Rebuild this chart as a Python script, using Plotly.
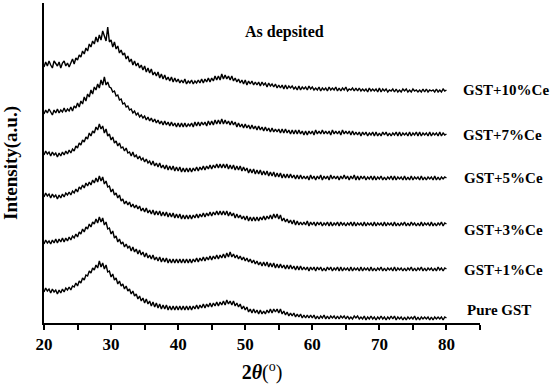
import numpy as np
import plotly.graph_objects as go

# 2-theta sampling: start 20 deg, 0.25 deg step
two_theta_start, two_theta_step = 20.0, 0.25

labels = ["GST+10%Ce", "GST+7%Ce", "GST+5%Ce", "GST+3%Ce", "GST+1%Ce", "Pure GST"]

ce10 = [
    256,261,257,262, 258,255,262,259,
    257,261,255,260, 262,257,260,256,
    261,264,259,265, 263,268,266,272,
    269,275,272,279, 276,282,279,286,
    281,288,283,292, 287,282,296,281,
    283,276,281,274, 277,270,273,268,
    270,264,267,261, 264,258,262,257,
    260,255,258,253, 257,251,255,250,
    254,248,251,247, 251,245,249,244,
    248,243,246,242, 246,241,245,241,
    244,240,243,240, 244,239,242,240,
    243,239,242,240, 243,240,244,240,
    244,241,245,241, 245,242,247,243,
    247,243,249,244, 248,244,247,243,
    247,242,245,241, 244,240,243,239,
    243,238,242,239, 242,238,241,238,
    241,237,241,238, 240,236,240,237,
    239,236,239,235, 238,235,238,234,
    238,234,237,235, 237,234,236,233,
    237,233,236,234, 236,233,237,234,
    236,233,235,233, 236,232,235,233,
    235,232,236,233, 235,233,236,232,
    235,232,235,233, 236,232,234,233,
    235,232,235,232, 235,232,234,232,
    234,231,235,232, 234,232,234,231,
    235,231,234,232, 234,231,233,232,
    234,231,234,231, 233,231,234,232,
    234,231,233,231, 234,232,233,231,
    233,231,234,231, 234,231,233,232,
    233,231,234,231, 233,231,234,232,
    233]
ce7 = [
    209,213,210,214, 211,208,213,210,
    214,210,213,211, 215,211,214,212,
    216,212,217,215, 220,216,222,219,
    226,222,229,226, 233,229,236,233,
    239,235,243,238, 246,238,241,236,
    235,231,232,227, 228,223,224,219,
    220,216,217,213, 214,210,212,208,
    210,206,208,205, 207,203,206,202,
    205,201,204,200, 203,199,202,198,
    202,198,201,197, 201,197,200,196,
    200,196,200,196, 200,196,199,197,
    200,196,201,197, 201,197,201,198,
    201,197,202,198, 202,198,203,199,
    203,199,204,199, 203,199,202,198,
    202,198,201,196, 200,196,199,195,
    199,195,198,194, 198,194,197,193,
    197,193,196,192, 196,192,195,191,
    195,191,194,191, 194,190,194,190,
    194,190,193,189, 193,189,193,189,
    193,189,192,188, 192,188,192,189,
    192,188,193,189, 192,189,193,189,
    192,189,192,188, 193,189,192,189,
    192,188,193,189, 192,189,192,188,
    192,188,191,188, 191,187,191,188,
    191,187,190,188, 191,187,191,187,
    190,187,191,188, 191,187,190,187,
    190,188,191,187, 191,187,190,188,
    190,187,191,187, 190,188,191,187,
    191,187,190,188, 190,187,191,187,
    190,188,190,187, 191,187,190,188,
    189]
ce5 = [
    168,172,169,171, 167,171,168,170,
    166,170,167,171, 168,172,169,173,
    170,174,172,177, 175,180,178,183,
    181,186,184,190, 187,192,190,196,
    193,199,194,197, 190,194,187,189,
    183,186,180,182, 177,180,175,176,
    172,175,170,171, 167,171,166,168,
    164,167,163,165, 161,164,160,162,
    158,162,157,160, 156,160,155,158,
    154,158,153,157, 153,157,152,156,
    152,156,151,155, 151,155,151,155,
    151,155,152,156, 152,156,153,157,
    153,157,154,158, 154,158,155,159,
    155,159,155,159, 155,159,154,158,
    154,158,153,157, 153,157,152,156,
    152,155,150,154, 150,154,149,153,
    149,153,148,152, 148,152,147,151,
    147,151,146,150, 146,150,145,149,
    145,149,145,149, 145,148,144,148,
    144,148,144,147, 144,147,143,148,
    144,147,143,147, 144,148,143,147,
    144,147,143,148, 144,147,144,147,
    143,147,144,148, 144,147,143,147,
    144,148,143,147, 143,147,144,147,
    143,146,144,147, 143,147,143,146,
    144,147,143,146, 143,146,144,147,
    143,147,143,146, 144,146,143,147,
    143,146,143,147, 143,146,144,146,
    143,147,143,146, 143,146,144,146,
    143,147,143,146, 143,146,144,146,
    145]
ce3 = [
    126,130,127,129, 125,129,126,128,
    124,128,125,129, 126,130,128,131,
    128,132,130,134, 131,136,134,138,
    135,140,137,141, 138,143,140,145,
    141,147,142,146, 139,142,136,137,
    131,134,128,130, 125,128,122,124,
    119,122,118,121, 116,119,115,118,
    114,117,112,115, 111,115,110,113,
    109,113,108,112, 108,112,107,111,
    107,111,106,110, 106,110,105,109,
    105,109,104,108, 104,108,104,108,
    104,108,105,109, 105,109,106,110,
    106,110,107,111, 107,111,108,112,
    108,112,108,112, 108,112,107,111,
    107,110,105,109, 105,108,104,107,
    103,107,102,106, 102,106,102,106,
    102,106,103,107, 103,107,104,108,
    104,109,105,109, 104,108,102,105,
    101,104,100,103, 99,103,98,102,
    98,101,98,101, 98,102,97,101,
    98,101,97,101, 98,101,97,100,
    98,101,97,101, 97,100,98,101,
    97,101,98,100, 97,100,98,101,
    97,101,97,100, 98,100,97,101,
    97,100,98,100, 97,101,97,100,
    98,100,97,101, 97,100,98,100,
    97,101,97,100, 97,100,98,101,
    97,100,97,101, 98,100,97,100,
    97,101,97,100, 98,100,97,101,
    97,100,97,100, 98,101,97,100,
    99]
ce1 = [
    79,83,80,82, 79,83,80,84,
    80,84,81,85, 81,85,82,86,
    83,87,85,89, 86,91,89,94,
    91,96,94,99, 96,101,99,104,
    100,106,101,105, 98,101,94,95,
    89,92,85,87, 81,84,79,81,
    76,79,75,77, 72,76,71,74,
    69,73,68,71, 66,70,65,68,
    64,68,63,66, 62,66,61,65,
    61,65,60,64, 60,64,60,64,
    60,64,60,64, 60,64,60,64,
    60,64,61,65, 61,65,62,66,
    62,66,63,67, 63,67,64,68,
    64,68,65,69, 65,70,66,71,
    66,69,65,68, 64,67,63,66,
    62,65,61,64, 60,63,59,62,
    58,61,57,61, 57,61,56,60,
    56,60,55,59, 55,59,55,58,
    54,58,54,58, 54,57,53,57,
    53,57,53,56, 53,56,52,56,
    53,56,52,56, 53,56,52,55,
    52,56,53,56, 52,55,53,56,
    52,56,52,55, 53,55,52,56,
    52,55,53,55, 52,56,52,55,
    53,55,52,56, 52,55,52,55,
    53,56,52,55, 52,55,53,55,
    52,56,52,55, 53,55,52,55,
    52,55,53,56, 52,55,52,55,
    53,56,52,55, 52,55,53,55,
    52,55,52,56, 53,55,52,55,
    54]
pure = [
    31,35,32,34, 30,34,31,33,
    29,33,30,34, 31,35,33,36,
    33,37,36,40, 37,42,40,45,
    43,48,47,52, 50,55,53,58,
    55,62,56,60, 54,58,51,52,
    46,49,43,45, 39,42,37,39,
    34,37,32,34, 29,32,27,29,
    24,27,22,25, 20,24,19,22,
    17,21,16,20, 15,19,14,18,
    14,18,13,17, 13,17,13,17,
    13,17,13,17, 13,17,13,17,
    13,17,14,18, 14,18,15,19,
    15,19,16,20, 16,20,17,21,
    17,21,18,22, 18,23,19,22,
    18,22,17,20, 16,19,14,17,
    13,16,11,14, 10,14,10,13,
    9,13,9,12, 9,13,10,14,
    10,14,11,14, 10,14,9,12,
    8,11,7,10, 7,10,6,9,
    6,9,5,8, 5,8,5,8,
    5,8,4,7, 4,7,5,8,
    4,7,4,7, 5,7,4,7,
    4,7,5,7, 4,7,4,6,
    4,7,5,7, 4,6,4,7,
    3,6,4,7, 4,6,3,6,
    4,7,4,6, 3,6,4,7,
    4,7,3,6, 4,6,3,6,
    3,6,4,6, 4,7,3,6,
    3,6,4,6, 4,6,3,6,
    3,6,4,6, 4,6,3,6,
    5]

series = [ce10, ce7, ce5, ce3, ce1, pure]

FONT = "Liberation Serif"
fig = go.Figure()
for s in series:
    x = two_theta_start + two_theta_step * np.arange(len(s))
    fig.add_trace(go.Scatter(x=x, y=s, mode="lines",
                             line=dict(color="black", width=1.4),
                             showlegend=False, hoverinfo="skip"))

# curve labels
label_pos = [(82.1, 233), (82.2, 188), (82.3, 145), (82.3, 93), (82.3, 53), (82.7, 13)]
for txt, (lx, ly) in zip(labels, label_pos):
    fig.add_annotation(x=lx, y=ly, xref="x", yref="y", text=f"<b>{txt}</b>",
                       showarrow=False, xanchor="left", yanchor="middle",
                       font=dict(family=FONT, size=15, color="black"))

fig.add_annotation(x=55.8, y=291, xref="x", yref="y", text="<b>As depsited</b>",
                   showarrow=False, xanchor="center", yanchor="middle",
                   font=dict(family=FONT, size=16, color="black"))

fig.update_layout(
    width=558, height=389,
    margin=dict(l=44, r=78, t=3, b=66),
    paper_bgcolor="white", plot_bgcolor="white",
    font=dict(family=FONT, color="black"),
    xaxis=dict(range=[20, 85], showgrid=False, zeroline=False,
               showline=True, linecolor="black", linewidth=2,
               ticks="outside", ticklen=5, tickwidth=1.5, tickcolor="black",
               tickvals=[20, 30, 40, 50, 60, 70, 80],
               tickfont=dict(family=FONT, size=17, color="black", weight="bold"),
               minor=dict(tickvals=[25, 35, 45, 55, 65, 75, 85], ticks="outside",
                          ticklen=5, tickwidth=1.5, tickcolor="black"),
               title=dict(text="<b>2<i>θ</i></b>(<sup>o</sup>)", standoff=12,
                          font=dict(family=FONT, size=20, color="black"))),
    yaxis=dict(range=[0, 320], showgrid=False, zeroline=False,
               showline=True, linecolor="black", linewidth=2,
               ticks="", showticklabels=False,
               title=dict(text="<b>Intensity(a.u.)</b>", standoff=19,
                          font=dict(family=FONT, size=19, color="black"))),
)

fig.write_html("out.html")
